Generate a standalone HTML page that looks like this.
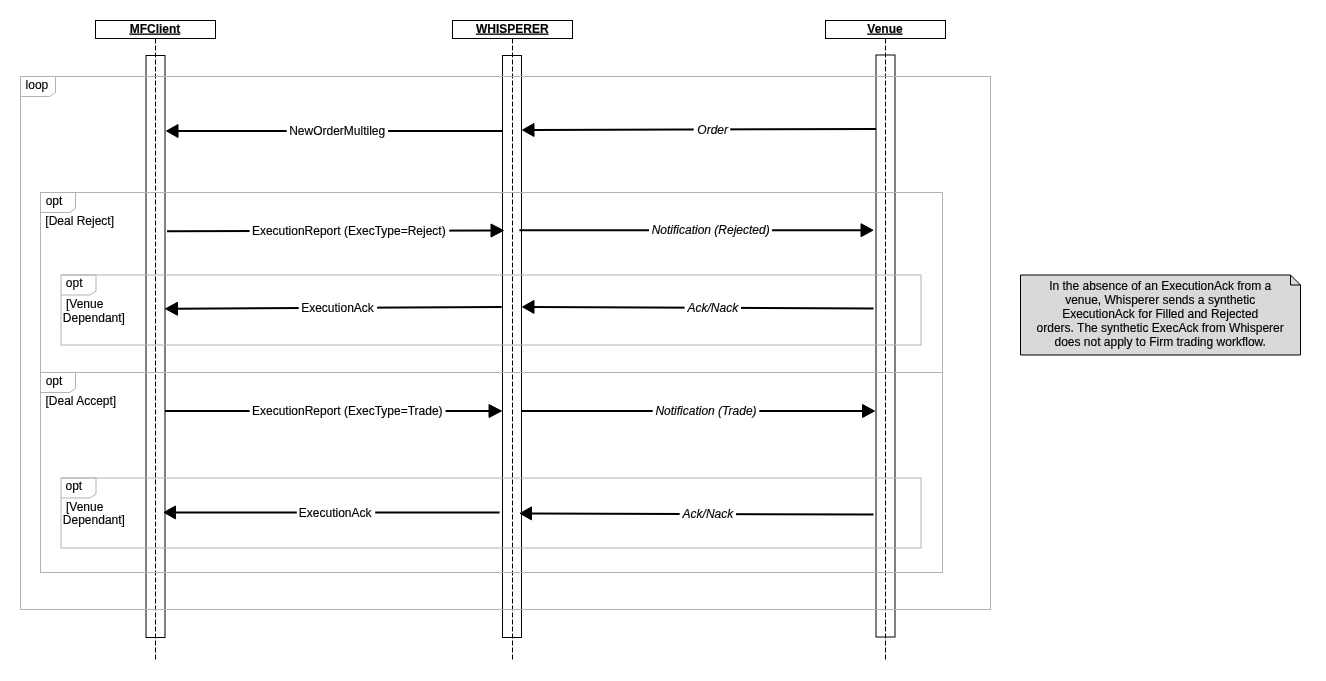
<!DOCTYPE html>
<html><head><meta charset="utf-8">
<style>
html,body{margin:0;padding:0;background:#fff;width:1326px;height:681px;overflow:hidden}
svg{display:block;will-change:transform}
text{font-family:"Liberation Sans",sans-serif;font-size:12px;fill:#000;stroke:#000;stroke-width:0.15px}
.it{font-style:italic}
.b{font-weight:bold;text-decoration:underline}
</style></head><body>
<svg width="1326" height="681" viewBox="0 0 1326 681">
<rect x="0" y="0" width="1326" height="681" fill="#fff"/>
<!-- lifeline headers -->
<g fill="#fff" stroke="#000" stroke-width="1">
<rect x="95.5" y="20.5" width="120" height="18"/>
<rect x="452.5" y="20.5" width="120" height="18"/>
<rect x="825.5" y="20.5" width="120" height="18"/>
</g>
<text class="b" x="155" y="32.6" text-anchor="middle">MFClient</text>
<text class="b" x="512.3" y="32.6" text-anchor="middle">WHISPERER</text>
<text class="b" x="885" y="32.6" text-anchor="middle">Venue</text>
<!-- lifelines -->
<g stroke="#000" stroke-width="1" stroke-dasharray="5 2">
<line x1="155.5" y1="38.5" x2="155.5" y2="660"/>
<line x1="512.5" y1="38.5" x2="512.5" y2="660"/>
<line x1="885.5" y1="38.5" x2="885.5" y2="660"/>
</g>
<!-- activation bars -->
<g fill="none" stroke="#000" stroke-width="1">
<rect x="146" y="55.5" width="19" height="582"/>
<rect x="502.5" y="55.5" width="19" height="582"/>
<rect x="876" y="55" width="19" height="582"/>
</g>
<!-- arrows -->
<g stroke="#000" stroke-width="2" fill="none">
<line x1="502" y1="131" x2="176" y2="131"/>
<line x1="876" y1="129" x2="532" y2="130"/>
<line x1="167" y1="231.3" x2="493" y2="230.5"/>
<line x1="519.4" y1="230.3" x2="863" y2="230.2"/>
<line x1="501.7" y1="307" x2="176" y2="308.8"/>
<line x1="873.5" y1="308.4" x2="532" y2="306.9"/>
<line x1="165" y1="411" x2="491" y2="411"/>
<line x1="521.5" y1="411" x2="864" y2="411"/>
<line x1="499.6" y1="512.5" x2="174" y2="512.4"/>
<line x1="873.5" y1="514.6" x2="530" y2="513.4"/>
</g>
<g fill="#000" stroke="#000" stroke-width="1" stroke-linejoin="miter">
<polygon points="166.5,131 178,124.5 178,137.5"/>
<polygon points="522.5,130 534,123.5 534,136.5"/>
<polygon points="503.5,230.5 491,224 491,237"/>
<polygon points="873,230.2 861,223.7 861,236.7"/>
<polygon points="165.5,308.8 177.5,302.3 177.5,315.3"/>
<polygon points="522.5,306.9 534,300.4 534,313.4"/>
<polygon points="501.5,411 489,404.5 489,417.5"/>
<polygon points="874.5,411 862.5,404.5 862.5,417.5"/>
<polygon points="164,512.4 175.5,505.9 175.5,518.9"/>
<polygon points="520,513.4 531.5,506.9 531.5,519.9"/>
</g>
<!-- labels -->
<g fill="#fff">
<rect x="286.7" y="124" width="101.40" height="14"/>
<rect x="693.7" y="123" width="36.50" height="14"/>
<rect x="249.6" y="224" width="199.70" height="14"/>
<rect x="649" y="223" width="123.00" height="14"/>
<rect x="298.7" y="301" width="78.40" height="14"/>
<rect x="684.65" y="301" width="56.35" height="14"/>
<rect x="249.6" y="404" width="196.00" height="14"/>
<rect x="652.7" y="404" width="106.60" height="14"/>
<rect x="296.8" y="506" width="78.40" height="14"/>
<rect x="679.65" y="507" width="56.35" height="14"/>
</g>
<text x="337.2" y="134.7" text-anchor="middle">NewOrderMultileg</text>
<text class="it" x="712.7" y="133.8" text-anchor="middle">Order</text>
<text x="348.8" y="234.6" text-anchor="middle">ExecutionReport (ExecType=Reject)</text>
<text class="it" x="710.7" y="233.8" text-anchor="middle">Notification (Rejected)</text>
<text x="337.5" y="311.6" text-anchor="middle">ExecutionAck</text>
<text class="it" x="712.8" y="311.6" text-anchor="middle">Ack/Nack</text>
<text x="347.3" y="414.6" text-anchor="middle">ExecutionReport (ExecType=Trade)</text>
<text class="it" x="706" y="414.9" text-anchor="middle">Notification (Trade)</text>
<text x="335.2" y="516.6" text-anchor="middle">ExecutionAck</text>
<text class="it" x="707.9" y="517.5" text-anchor="middle">Ack/Nack</text>
<!-- frames -->
<g fill="none" stroke="#b3b3b3" stroke-width="1">
<rect x="20.5" y="76.5" width="970" height="533"/>
<path d="M20.5 76.5 H55.5 V92.5 L49.5 96.5 H20.5"/>
<rect x="40.5" y="192.5" width="902" height="180"/>
<path d="M40.5 192.5 H75.5 V208.5 L69.5 212.5 H40.5"/>
<rect x="61" y="275" width="860" height="70"/>
<path d="M61 275 H96 V291 L90 295 H61"/>
<rect x="40.5" y="372.5" width="902" height="200"/>
<path d="M40.5 372.5 H75.5 V388.5 L69.5 392.5 H40.5"/>
<rect x="61" y="478" width="860" height="70"/>
<path d="M61 478 H96 V494 L90 498 H61"/>
</g>
<text x="25.55" y="89">loop</text>
<text x="45.7" y="205">opt</text>
<text x="45.3" y="224.6">[Deal Reject]</text>
<text x="65.8" y="286.8">opt</text>
<text x="66" y="308">[Venue</text>
<text x="62.85" y="321.6">Dependant]</text>
<text x="45.7" y="384.6">opt</text>
<text x="45.5" y="404.6">[Deal Accept]</text>
<text x="65.5" y="489.5">opt</text>
<text x="66" y="510.7">[Venue</text>
<text x="62.85" y="524.3">Dependant]</text>
<!-- note -->
<path d="M1020.5 275 H1290.5 L1300.5 285 V355 H1020.5 Z" fill="#d9d9d9" stroke="#000" stroke-width="1"/>
<path d="M1290.5 275 V285 H1300.5" fill="none" stroke="#000" stroke-width="1"/>
<g text-anchor="middle">
<text x="1160.2" y="289.7">In the absence of an ExecutionAck from a</text>
<text x="1160.2" y="303.8">venue, Whisperer sends a synthetic</text>
<text x="1160.2" y="317.8">ExecutionAck for Filled and Rejected</text>
<text x="1160.2" y="331.8">orders. The synthetic ExecAck from Whisperer</text>
<text x="1160.2" y="345.6">does not apply to Firm trading workflow.</text>
</g>
</svg>
</body></html>
